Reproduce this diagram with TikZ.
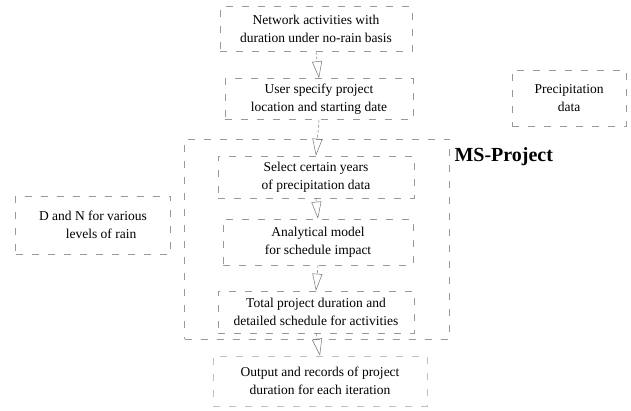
\documentclass[tikz,border=0pt]{standalone}
\usepackage{fontspec}
\setmainfont{Liberation Serif}
\usetikzlibrary{arrows.meta}
\begin{document}
\begin{tikzpicture}[x=1pt,y=-1pt,
  faint/.style={draw=black!40,line width=0.5pt,dash pattern=on 7pt off 9pt},
  box/.style={faint,rectangle,align=center,inner sep=0pt,
    font=\fontsize{13.5}{18.5}\selectfont},
  flow/.style={draw=black!55,line width=0.5pt,dash pattern=on 3pt off 2pt,
    -{Triangle[open,length=17pt,width=10pt,line width=0.5pt]}}]
\useasboundingbox (0,0) rectangle (631,410);
% container
\node[faint,rectangle,minimum width=265pt,minimum height=200pt,inner sep=0pt] (ms) at (317,239) {};
\node[font=\fontsize{20}{23}\selectfont\bfseries,anchor=west] (mslabel) at (451,157) {MS-Project};
% main flow
\node[box,minimum width=192pt,minimum height=45pt] (b1) at (316,29)
  {Network activities with\\duration under no-rain basis};
\node[box,minimum width=188pt,minimum height=41pt] (b2) at (319,99)
  {User specify project\\location and starting date};
\node[box,minimum width=196pt,minimum height=42pt] (b3) at (316,177)
  {Select certain years\\of precipitation data};
\node[box,minimum width=190pt,minimum height=46pt] (b4) at (318,242)
  {Analytical model\\for schedule impact};
\node[box,minimum width=196pt,minimum height=42pt] (b5) at (316,312)
  {Total project duration and\\detailed schedule for activities};
\node[box,minimum width=214pt,minimum height=50pt,draw=black!25] (b6) at (320,381)
  {Output and records of project\\duration for each iteration};
% side boxes
\node[box,minimum width=155pt,minimum height=58pt] (dn) at (93,225)
  {D and N for various\\\hspace*{1.2em}levels of rain};
\node[box,minimum width=114pt,minimum height=56pt] (pd) at (569,98)
  {Precipitation\\data};
% arrows
\draw[flow] (b1.south) -- (b2.north);
\draw[flow] (b2.south) -- (b3.north);
\draw[flow] (b3.south) -- (b4.north);
\draw[flow] (b4.south) -- (b5.north);
\draw[flow] (b5.south) -- (b6.north);
\end{tikzpicture}
\end{document}
